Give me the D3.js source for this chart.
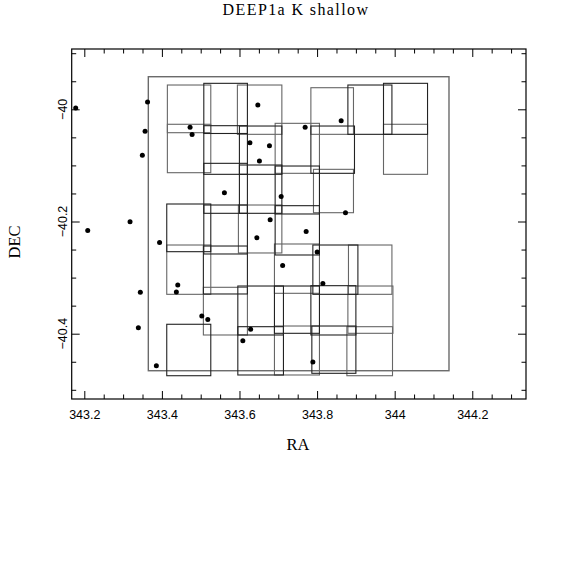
<!DOCTYPE html>
<html>
<head>
<meta charset="utf-8">
<script src="https://cdn.jsdelivr.net/npm/d3@7"></script>
<style>
  html, body { margin: 0; padding: 0; background: #fff; }
  svg { display: block; }
</style>
</head>
<body>
<svg id="chart" width="574" height="574"></svg>
<script>
// ---------- DATA ----------
const title = "DEEP1a K shallow";
const xTitle = "RA";
const yTitle = "DEC";

const raTicks = [343.2, 343.4, 343.6, 343.8, 344.0, 344.2];
const raTickLabels = ["343.2", "343.4", "343.6", "343.8", "344", "344.2"];
const decTicks = [-40.0, -40.2, -40.4];
const decTickLabels = ["\u221240", "\u221240.2", "\u221240.4"];

// outer survey boundary
const outerRA = [343.365, 344.140];
const outerDec = [-39.9419, -40.466];

// individual frames (RA left/right, Dec top/bottom, pass id)
const frameRA0  = [343.4141,343.5080,343.5946,343.7840,343.8794,343.9712,
                   343.4141,343.5080,343.5998,343.6919,343.7840,343.9712,
                   343.5080,343.5998,343.6919,343.7907,
                   343.4125,343.5080,343.5972,343.6919,
                   343.4125,343.5069,343.6901,343.7891,343.8809,
                   343.5069,343.5957,343.6901,343.7840,343.8794,
                   343.4125,343.5957,343.6901,343.7865,343.8768];
const frameRA1  = [343.5260,343.6204,343.7092,343.8938,343.9929,344.0847,
                   343.5260,343.6204,343.7092,343.8061,343.8964,344.0847,
                   343.6204,343.7092,343.8061,343.8938,
                   343.5260,343.6204,343.7092,343.8061,
                   343.5260,343.6204,343.8061,343.9052,343.9929,
                   343.6204,343.7133,343.8061,343.9000,343.9955,
                   343.5260,343.7133,343.8061,343.9000,343.9944];
const frameDec0 = [-39.9567,-39.9537,-39.9567,-39.9615,-39.9567,-39.9537,
                   -40.0267,-40.0292,-40.0298,-40.0250,-40.0298,-40.0267,
                   -40.0963,-40.0993,-40.1011,-40.1070,
                   -40.1688,-40.1706,-40.1706,-40.1718,
                   -40.2419,-40.2437,-40.2401,-40.2419,-40.2419,
                   -40.3173,-40.3150,-40.3150,-40.3144,-40.3150,
                   -40.3832,-40.3875,-40.3863,-40.3863,-40.3875];
const frameDec1 = [-40.0417,-40.0431,-40.0446,-40.0446,-40.0446,-40.0446,
                   -40.1130,-40.1159,-40.1159,-40.1141,-40.1141,-40.1159,
                   -40.1854,-40.1854,-40.1866,-40.1843,
                   -40.2538,-40.2579,-40.2561,-40.2597,
                   -40.3298,-40.3292,-40.3280,-40.3298,-40.3298,
                   -40.4023,-40.4023,-40.3993,-40.4023,-40.3993,
                   -40.4749,-40.4736,-40.4736,-40.4706,-40.4749];
const framePass = [2,1,2,2,1,1,
                   2,1,1,2,1,2,
                   1,1,1,2,
                   1,1,2,1,
                   2,1,2,1,2,
                   2,1,1,1,2,
                   1,1,2,1,2];

// objects
const objRA  = [343.1778,343.3630,343.3566,343.3496,343.4726,343.4778,343.6473,343.6269,
                343.6772,343.6514,343.5611,343.7074,343.3179,343.2088,343.6790,343.6447,
                343.7692,343.8621,343.8732,343.7718,343.3940,343.7112,343.4409,343.4373,
                343.3444,343.3393,343.5028,343.5183,343.6287,343.6086,343.3857,343.8002,
                343.8149,343.7891];
const objDec = [-39.9977,-39.9870,-40.0392,-40.0820,-40.0321,-40.0449,-39.9923,-40.0597,
                -40.0649,-40.0922,-40.1487,-40.1554,-40.2004,-40.2160,-40.1970,-40.2289,
                -40.0321,-40.0203,-40.1843,-40.2178,-40.2374,-40.2784,-40.3132,-40.3257,
                -40.3262,-40.3893,-40.3684,-40.3747,-40.3922,-40.4127,-40.4570,-40.2544,
                -40.3105,-40.4504];

// ---------- CHART ----------
(function () {
const svg = d3.select("#chart");
svg.append("rect").attr("width", 574).attr("height", 574).attr("fill", "#fff");

const pl = 71.7, pr = 526, pt = 49, pb = 399;
const x = d3.scaleLinear().domain([343.1675, 344.3385]).range([pl, pr]);
const y = d3.scaleLinear().domain([-39.8925, -40.5164]).range([pt, pb]);

const passColor = d3.scaleOrdinal().domain([1, 2]).range(["#222222", "#666666"]);

// outer boundary
svg.append("rect")
  .attr("x", x(outerRA[0])).attr("y", y(outerDec[0]))
  .attr("width", x(outerRA[1]) - x(outerRA[0]))
  .attr("height", y(outerDec[1]) - y(outerDec[0]))
  .attr("fill", "none").attr("stroke", "#6a6a6a").attr("stroke-width", 1.4);

// frames (gray first, then dark on top)
const frames = frameRA0.map((r, i) => ({ra0: r, ra1: frameRA1[i], d0: frameDec0[i], d1: frameDec1[i], p: framePass[i]}))
  .sort((a, b) => b.p - a.p);
svg.append("g").selectAll("rect").data(frames).join("rect")
  .attr("x", d => x(d.ra0)).attr("y", d => y(d.d0))
  .attr("width", d => x(d.ra1) - x(d.ra0))
  .attr("height", d => y(d.d1) - y(d.d0))
  .attr("fill", "none")
  .attr("stroke", d => passColor(d.p))
  .attr("stroke-width", 1.1);

// points
svg.append("g").selectAll("circle").data(objRA.map((r, i) => [r, objDec[i]])).join("circle")
  .attr("cx", d => x(d[0])).attr("cy", d => y(d[1])).attr("r", 2.5).attr("fill", "#000");

// axes: ticks on all 4 sides, inward
const xMinor = d3.range(343.2, 344.3001, 0.05).filter(v => !raTicks.some(t => Math.abs(t - v) < 1e-6));
const yMinor = d3.range(-39.9, -40.5001, -0.05).filter(v => !decTicks.some(t => Math.abs(t - v) < 1e-6));

function tickGroup(axis, transform) {
  const g = svg.append("g").attr("transform", transform).call(axis);
  g.select(".domain").remove();
  g.selectAll("line").attr("stroke", "#000").attr("stroke-width", 1);
  return g;
}
const fontTick = "'Liberation Sans', Arial, Helvetica, sans-serif";

// bottom
tickGroup(d3.axisBottom(x).tickValues(xMinor).tickSize(-4.5).tickFormat(""), `translate(0,${pb})`);
const gb = tickGroup(d3.axisBottom(x).tickValues(raTicks).tickSize(-8).tickPadding(11)
  .tickFormat((d, i) => raTickLabels[i]), `translate(0,${pb})`);
gb.selectAll("text").attr("font-family", fontTick).attr("font-size", 12.5).attr("fill", "#000");
// top
tickGroup(d3.axisTop(x).tickValues(xMinor).tickSize(-4.5).tickFormat(""), `translate(0,${pt})`);
tickGroup(d3.axisTop(x).tickValues(raTicks).tickSize(-8).tickFormat(""), `translate(0,${pt})`);
// left
tickGroup(d3.axisLeft(y).tickValues(yMinor).tickSize(-4.5).tickFormat(""), `translate(${pl},0)`);
tickGroup(d3.axisLeft(y).tickValues(decTicks).tickSize(-8).tickFormat(""), `translate(${pl},0)`);
svg.append("g").selectAll("text").data(decTicks).join("text")
  .attr("transform", d => `translate(${pl - 5},${y(d)}) rotate(-90)`)
  .attr("text-anchor", "middle")
  .attr("font-family", fontTick).attr("font-size", 12.5).attr("fill", "#000")
  .text((d, i) => decTickLabels[i]);
// right
tickGroup(d3.axisRight(y).tickValues(yMinor).tickSize(-4.5).tickFormat(""), `translate(${pr},0)`);
tickGroup(d3.axisRight(y).tickValues(decTicks).tickSize(-8).tickFormat(""), `translate(${pr},0)`);

// frame
svg.append("rect").attr("x", pl).attr("y", pt).attr("width", pr - pl).attr("height", pb - pt)
  .attr("fill", "none").attr("stroke", "#000").attr("stroke-width", 1.2);

// titles
const serif = "'Liberation Serif', 'Times New Roman', serif";
svg.append("text").attr("x", 296).attr("y", 15).attr("text-anchor", "middle")
  .attr("font-family", serif).attr("font-size", 16).attr("letter-spacing", 1.4).attr("fill", "#000")
  .text(title);
svg.append("text").attr("x", 298).attr("y", 450).attr("text-anchor", "middle")
  .attr("font-family", serif).attr("font-size", 16.5).attr("fill", "#000")
  .text(xTitle);
svg.append("text").attr("transform", "translate(20,242) rotate(-90)").attr("text-anchor", "middle")
  .attr("font-family", serif).attr("font-size", 16.5).attr("fill", "#000")
  .text(yTitle);
})();
</script>
</body>
</html>
